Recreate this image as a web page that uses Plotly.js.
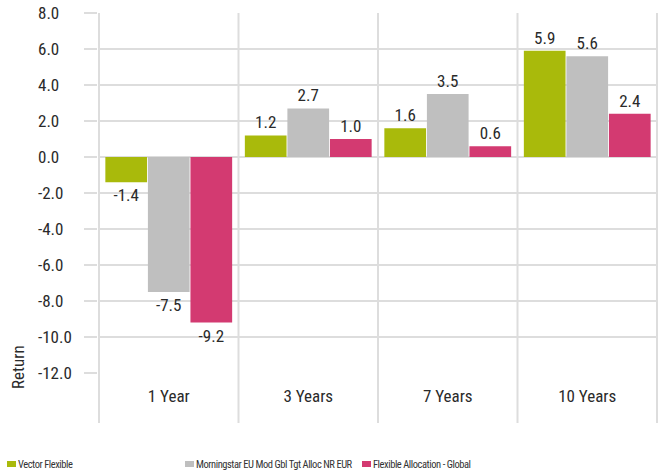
<!DOCTYPE html>
<html>
<head>
<meta charset="utf-8">
<script src="https://cdn.plot.ly/plotly-3.0.1.min.js"></script>
<style>
html,body{margin:0;padding:0;background:#fff;}
#chart{width:660px;height:471px;}
#chart text{font-stretch:condensed !important;}
</style>
</head>
<body>
<div id="chart"></div>
<script>
var categories = ["1 Year", "3 Years", "7 Years", "10 Years"];
var seriesNames = ["Vector Flexible", "Morningstar EU Mod Gbl Tgt Alloc NR EUR", "Flexible Allocation - Global"];
var vectorFlexible = [-1.4, 1.2, 1.6, 5.9];
var morningstarIndex = [-7.5, 2.7, 3.5, 5.6];
var flexibleAllocation = [-9.2, 1.0, 0.6, 2.4];
var yTickValues = [-12, -10, -8, -6, -4, -2, 0, 2, 4, 6, 8];
var colors = ["#A9BA0B", "#BFBFBF", "#D33A71"];

var FONT = "'Roboto Condensed', 'DejaVu Sans Condensed', 'DejaVu Sans', sans-serif";
var TXT = "#2a2a2a";
var GRID = "#dddddd";

var seriesValues = [vectorFlexible, morningstarIndex, flexibleAllocation];
var traces = seriesValues.map(function (vals, i) {
  return {
    type: "bar",
    name: seriesNames[i],
    x: categories,
    y: vals,
    marker: {color: colors[i]},
    texttemplate: "%{y:.1f}",
    textposition: "outside",
    textfont: {family: FONT, size: 17, color: TXT},
    cliponaxis: false,
    hoverinfo: "skip"
  };
});

var W = 660, H = 471, L = 98, R = 2, T = 13, B = 98;
var pw = W - L - R, ph = H - T - B;
function px2x(p) { return (p - L) / pw; }
function py2y(p) { return (H - B - p) / ph; }

var shapes = [];
for (var k = 0; k <= categories.length; k++) {
  shapes.push({type: "line", xref: "x", yref: "paper", x0: k - 0.5, x1: k - 0.5,
    y0: py2y(423), y1: 1, line: {color: GRID, width: 2}, layer: "below"});
}
var annotations = [{
  text: "Return", xref: "paper", yref: "paper", x: px2x(18), y: py2y(367),
  xanchor: "center", yanchor: "middle", textangle: -90, showarrow: false,
  font: {family: FONT, size: 17, color: TXT}
}];
// left-aligned y tick labels
yTickValues.forEach(function (v) {
  annotations.push({text: v.toFixed(1), xref: "paper", yref: "y", x: px2x(36), y: v,
    xanchor: "left", yanchor: "middle", showarrow: false,
    font: {family: FONT, size: 17, color: TXT}});
});
var legendX = [7, 185, 362];
for (var i = 0; i < seriesNames.length; i++) {
  shapes.push({type: "rect", xref: "paper", yref: "paper",
    x0: px2x(legendX[i]), x1: px2x(legendX[i] + 9), y0: py2y(467), y1: py2y(461),
    fillcolor: colors[i], line: {width: 0}});
  annotations.push({text: "<span style='letter-spacing:-0.45px'>" + seriesNames[i] + "</span>",
    xref: "paper", yref: "paper",
    x: px2x(legendX[i] + 9), y: py2y(464), xanchor: "left", yanchor: "middle",
    showarrow: false, font: {family: FONT, size: 10.5, color: "#333"}});
}

var layout = {
  width: W, height: H,
  margin: {l: L, r: R, t: T, b: B, pad: 0},
  paper_bgcolor: "#fff", plot_bgcolor: "#fff",
  barmode: "group", bargap: 0.085, bargroupgap: 0.02,
  showlegend: false,
  font: {family: FONT, color: TXT},
  xaxis: {
    type: "category", showgrid: false, zeroline: false, showline: false,
    ticks: "", ticklabelstandoff: 11,
    tickfont: {family: FONT, size: 17, color: TXT}
  },
  yaxis: {
    range: [-12, 8], tickvals: yTickValues, showticklabels: false,
    showgrid: true, gridcolor: GRID, gridwidth: 2,
    zeroline: true, zerolinecolor: GRID, zerolinewidth: 2,
    showline: false, ticks: "outside", ticklen: 13, tickwidth: 2, tickcolor: GRID
  },
  shapes: shapes,
  annotations: annotations
};

Plotly.newPlot("chart", traces, layout, {displayModeBar: false, staticPlot: true});
</script>
</body>
</html>
